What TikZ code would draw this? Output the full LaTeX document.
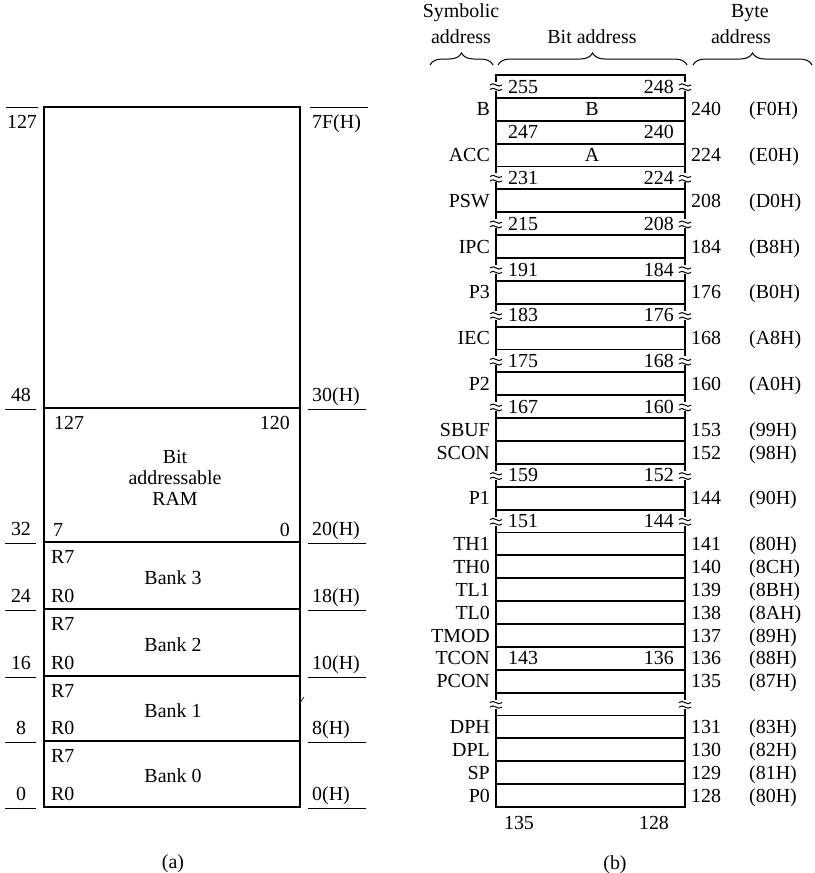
\documentclass[tikz,border=0pt]{standalone}
\usepackage{fontspec}
\setmainfont{Liberation Serif}
\usetikzlibrary{decorations.pathreplacing}
\begin{document}
\begin{tikzpicture}[x=1bp,y=-1bp,
  txt/.style={font=\fontsize{20}{23}\selectfont, inner sep=0pt},
  boxline/.style={line width=1.9bp},
  tickline/.style={line width=0.8bp},
  brc/.style={decorate, decoration={brace, amplitude=12bp}, line width=1bp},
  brk/.pic={
    \fill[white] (-2.2,-4.5) rectangle (2.2,4.5);
    \draw[line width=1bp] (-6,-1.5) .. controls (-2,-5.5) and (2,2.5) .. (6,-1.5);
    \draw[line width=1bp] (-6,3) .. controls (-2,-1) and (2,7) .. (6,3);
  }
]
\useasboundingbox (0,0) rectangle (815,873);

% ---------------- (a) ----------------
\draw[boxline] (44,107) rectangle (300,807);
\foreach \y in {408,542,609,676,741} \draw[boxline] (44,\y) -- (300,\y);

\node[txt] (l127) at (22,122) {127};
\draw[tickline] (6,107) -- (38,107);
\node[txt,anchor=base west] (r7F) at (312,128.6) {7F(H)};
\draw[tickline] (310,107) -- (368,107);

\foreach \y/\d/\h [count=\i] in {408/48/30(H),542/32/20(H),609/24/18(H),676/16/10(H),741/8/8(H),807/0/0(H)}{
  \node[txt] (ld\i) at (21,\y-13) {\d};
  \draw[tickline] (5,\y+1) -- (36,\y+1);
  \node[txt,anchor=base west] (rd\i) at (312,\y-6.4) {\h};
  \draw[tickline] (308,\y+1) -- (366,\y+1);
}

\node[txt,anchor=west] (b127) at (54,423) {127};
\node[txt,anchor=east] (b120) at (290,423) {120};
\node[txt] (bitA) at (175,457) {Bit};
\node[txt] (bitB) at (175,478) {addressable};
\node[txt] (bitC) at (175,499) {RAM};
\node[txt,anchor=west] (b7) at (53,530) {7};
\node[txt,anchor=east] (b0) at (290,530) {0};

\foreach \t/\b/\n in {542/609/3,609/676/2,676/741/1,741/807/0}{
  \node[txt,anchor=west] (rs\n) at (51,\t+15) {R7};
  \node[txt,anchor=west] (rz\n) at (51,\b-13) {R0};
  \node[txt] (bank\n) at (173,{(\t+\b)/2+2}) {Bank \n};
}
\draw[line width=0.7bp] (299,704) -- (304,697);
\node[txt,anchor=base] (capa) at (173,868.6) {(a)};

% ---------------- (b) ----------------
\def\xl{496}\def\xr{685}
\draw[line width=2.6bp] (\xl,75) -- (\xr,75);
\foreach \i in {1,...,32} \draw[boxline] (\xl,{75+\i*22.875}) -- (\xr,{75+\i*22.875});
\draw[line width=2.2bp] (\xl,74) -- (\xl,808);
\draw[line width=2.2bp] (\xr,74) -- (\xr,808);

\foreach \r in {0,4,6,8,10,12,14,17,19,27}{
  \pic at (\xl,{75+(\r+0.5)*22.875}) {brk};
  \pic at (\xr,{75+(\r+0.5)*22.875}) {brk};
}

\foreach \r/\a/\b in {0/255/248,2/247/240,4/231/224,6/215/208,8/191/184,10/183/176,12/175/168,14/167/160,17/159/152,19/151/144,25/143/136}{
  \node[txt,anchor=base west] (bh\r) at (508,{75+(\r+0.5)*22.875+6.6}) {\a};
  \node[txt,anchor=base east] (bl\r) at (674,{75+(\r+0.5)*22.875+6.6}) {\b};
}
\node[txt,anchor=base] (inB) at (592,{75+1.5*22.875+6.6}) {B};
\node[txt,anchor=base] (inA) at (592,{75+3.5*22.875+6.6}) {A};

\foreach \r/\lab/\num/\hex in {1/B/240/(F0H),3/ACC/224/(E0H),5/PSW/208/(D0H),7/IPC/184/(B8H),9/P3/176/(B0H),11/IEC/168/(A8H),13/P2/160/(A0H),15/SBUF/153/(99H),16/SCON/152/(98H),18/P1/144/(90H),20/TH1/141/(80H),21/TH0/140/(8CH),22/TL1/139/(8BH),23/TL0/138/(8AH),24/TMOD/137/(89H),25/TCON/136/(88H),26/PCON/135/(87H),28/DPH/131/(83H),29/DPL/130/(82H),30/SP/129/(81H),31/P0/128/(80H)}{
  \node[txt,anchor=base east] (sym\r) at (490,{75+(\r+0.5)*22.875+6.6}) {\lab};
  \node[txt,anchor=base west] (byte\r) at (691,{75+(\r+0.5)*22.875+6.6}) {\num};
  \node[txt,anchor=base west] (hex\r) at (749,{75+(\r+0.5)*22.875+6.6}) {\hex};
}

\node[txt] (hS1) at (461,13) {Symbolic};
\node[txt] (hS2) at (461,37) {address};
\node[txt] (hB) at (592,37) {Bit address};
\node[txt] (hY1) at (750,13) {Byte};
\node[txt] (hY2) at (741,37) {address};
\draw[brc] (430,65) -- (493,65);
\draw[brc] (498,65) -- (687,65);
\draw[brc] (693,65) -- (812,65);

\node[txt] (f135) at (519,823) {135};
\node[txt] (f128) at (654,823) {128};
\node[txt,anchor=base] (capb) at (615,869.6) {(b)};
\end{tikzpicture}
\end{document}
